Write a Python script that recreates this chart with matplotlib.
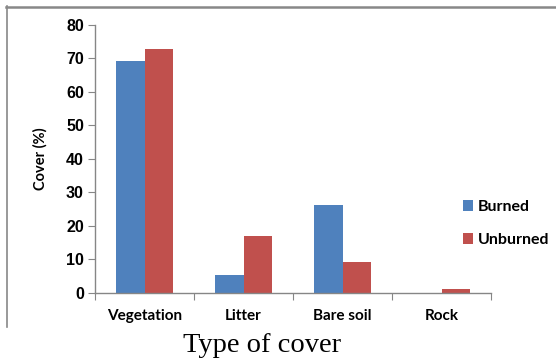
import numpy as np
import matplotlib
matplotlib.use("Agg")
import matplotlib.pyplot as plt
from matplotlib.lines import Line2D

# data
categories = ["Vegetation", "Litter", "Bare soil", "Rock"]
burned = [69.2, 5.3, 26.3, 0.0]
unburned = [72.8, 16.9, 9.3, 1.1]
series_names = ["Burned", "Unburned"]
y_ticks = [0, 10, 20, 30, 40, 50, 60, 70, 80]

blue = "#4F81BD"
red = "#C0504D"
axis_grey = "#868686"

fig = plt.figure(figsize=(5.56, 3.62), dpi=100, facecolor="white")
W, H = 556, 362

# outer frame (only top and left edges visible in the reference)
fig.add_artist(Line2D([6 / W, 1.0], [1 - 6.5 / H, 1 - 6.5 / H], color="#888888", lw=1.8,
                      transform=fig.transFigure))
fig.add_artist(Line2D([6.5 / W, 6.5 / W], [1 - 6 / H, 1 - 327 / H], color="#888888", lw=1.2,
                      transform=fig.transFigure))

ax = fig.add_axes([95 / W, (H - 292.7) / H, 396 / W, (292.7 - 25) / H])

x = np.arange(len(categories))
bw = 0.29
ax.bar(x - bw / 2, burned, width=bw, color=blue, label=series_names[0])
ax.bar(x + bw / 2, unburned, width=bw, color=red, label=series_names[1])

ax.set_xlim(-0.5, len(categories) - 0.5)
ax.set_ylim(0, 80)
ax.set_yticks(y_ticks)
ax.set_yticklabels([str(v) for v in y_ticks], fontsize=11.5, fontweight="bold",
                   family="Liberation Sans")

# ticks at category boundaries, labels in the middle
ax.set_xticks(np.arange(-0.5, len(categories), 1.0))
ax.set_xticklabels([])
ax.set_xticks(x, minor=True)
ax.set_xticklabels(categories, minor=True, fontsize=11, fontweight="bold", family="Lato")
ax.tick_params(axis="x", which="minor", length=0, pad=12)
ax.tick_params(axis="x", which="major", length=5, color=axis_grey, direction="out")
ax.tick_params(axis="y", length=5, color=axis_grey, direction="out", pad=3)

for s in ["top", "right"]:
    ax.spines[s].set_visible(False)
for s in ["left", "bottom"]:
    ax.spines[s].set_color(axis_grey)
    ax.spines[s].set_linewidth(1.0)

ax.set_ylabel("Cover (%)", fontsize=10.5, fontweight="bold", family="Lato")
ax.yaxis.set_label_coords(-47 / 396, 0.5)

fig.text(262 / W, 1 - 345 / H, "Type of cover", ha="center", va="center",
         fontsize=20.5, family="Liberation Serif")

leg = ax.legend(loc="upper left", bbox_to_anchor=(463 / W, 1 - 200 / H),
                bbox_transform=fig.transFigure, frameon=False,
                prop={"family": "Lato", "weight": "bold", "size": 11.5},
                handlelength=0.65, handleheight=0.65, handletextpad=0.3,
                labelspacing=1.2, borderpad=0, borderaxespad=0)

fig.savefig("out.png", dpi=100, facecolor="white")
